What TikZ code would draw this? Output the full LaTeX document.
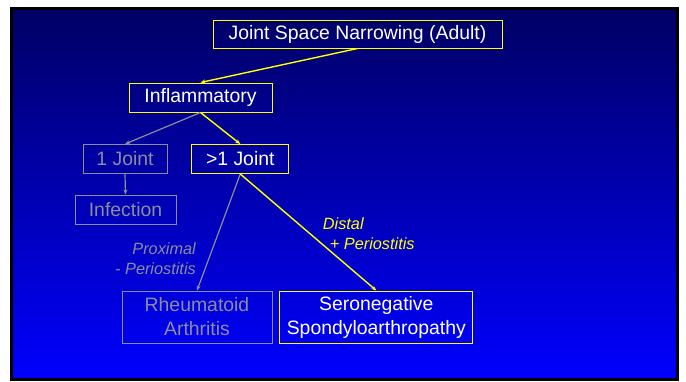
\documentclass[tikz,border=0pt]{standalone}
\usepackage{fontspec}
\setmainfont{Liberation Sans}
\usetikzlibrary{arrows.meta}
\definecolor{slidetop}{RGB}{0,0,100}
\definecolor{slidebot}{RGB}{0,0,255}
\definecolor{boxyellow}{RGB}{255,255,0}
\definecolor{dimgray}{RGB}{140,140,155}
\newcommand{\boxfont}{\fontsize{19.4}{24}\selectfont}
\newcommand{\notefont}{\fontsize{16.3}{20}\selectfont\itshape}
\tikzset{
  onbox/.style={draw=boxyellow,line width=1pt,text=white,inner sep=0pt,font=\boxfont,align=center},
  offbox/.style={draw=dimgray,line width=1pt,text=dimgray,inner sep=0pt,font=\boxfont,align=center},
  onarrow/.style={draw=boxyellow,line width=1.4pt,-{Stealth[length=5pt,width=4pt]}},
  offarrow/.style={draw=dimgray,line width=1.2pt,-{Stealth[length=5pt,width=4pt]}}
}

\begin{document}
\begin{tikzpicture}[x=1pt,y=-1pt]
    \useasboundingbox (0,0) rectangle (686,381);
    \shade[top color=slidetop,bottom color=slidebot] (11.5,8.5) rectangle (677.5,379.5);
    \draw[line width=3pt,black] (11.5,8.5) rectangle (677.5,379.5);

    \node[onbox,minimum width=289pt,minimum height=28pt] (jsn) at (357.5,34) {Joint Space Narrowing (Adult)};
    \node[onbox,minimum width=143pt,minimum height=29pt] (infl) at (200.5,97.5) {Inflammatory};
    \node[offbox,minimum width=84pt,minimum height=29pt] (one) at (125,159) {1 Joint};
    \node[onbox,minimum width=97pt,minimum height=29pt] (more) at (240.3,159) {>1 Joint};
    \node[offbox,minimum width=101pt,minimum height=29pt] (infec) at (125.5,209.5) {Infection};
    \node[offbox,minimum width=150pt,minimum height=52pt] (ra) at (197,317) {Rheumatoid\\Arthritis};
    \node[onbox,minimum width=193pt,minimum height=52pt] (sero) at (376.3,317) {Seronegative\\Spondyloarthropathy};

    \draw[onarrow] (jsn.south) -- (infl.north);
    \draw[offarrow] (infl.south) -- (one.north);
    \draw[onarrow] (infl.south) -- (more.north);
    \draw[offarrow] (one.south) -- (infec.north);
    \draw[offarrow] (more.south) -- (ra.north);
    \draw[onarrow] (more.south) -- (sero.north);

    \node[anchor=east,align=right,text=dimgray,font=\notefont,inner sep=0pt] (prox) at (196,259) {Proximal\\- Periostitis};
    \node[anchor=west,align=left,text=boxyellow,font=\notefont,inner sep=0pt] (dist) at (322.7,234) {Distal\\\hspace*{7pt}+ Periostitis};
  \end{tikzpicture}
\end{document}
